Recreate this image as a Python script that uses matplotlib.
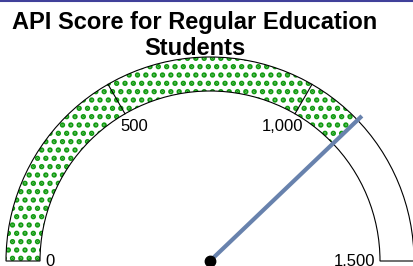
import numpy as np
import matplotlib
matplotlib.use("Agg")
import matplotlib.pyplot as plt
from matplotlib.patches import Wedge
from matplotlib.lines import Line2D

# gauge data
title = "API Score for Regular Education\nStudents"
gauge_min = 0
gauge_max = 1500
value = 1136
tick_values = [0, 500, 1000, 1500]
tick_labels = ["0", "500", "1,000", "1,500"]

plt.rcParams['font.family'] = ['Liberation Sans', 'DejaVu Sans']
plt.rcParams['hatch.linewidth'] = 2.6

fig = plt.figure(figsize=(4.14, 2.66), dpi=100)
ax = fig.add_axes([0, 0, 1, 1])
ax.set_xlim(0, 414)
ax.set_ylim(0, 266)
ax.set_aspect('equal')
ax.axis('off')

cx, cy = 210, 5
r_out, r_in = 204, 170


def to_angle(v):
    return 180.0 - 180.0 * (v - gauge_min) / (gauge_max - gauge_min)


# filled part (dotted green)
val_ang = to_angle(value)
ax.add_patch(Wedge((cx, cy), r_out, val_ang, 180, width=r_out - r_in,
                   facecolor='white', edgecolor='#109a10', hatch='..', linewidth=0))
# outline of the whole band
ax.add_patch(Wedge((cx, cy), r_out, 0, 180, width=r_out - r_in,
                   facecolor='none', edgecolor='black', linewidth=0.8))

# ticks across the band + labels
for tv, tl in zip(tick_values, tick_labels):
    a = np.deg2rad(to_angle(tv))
    if 0 < tv < gauge_max:
        ax.plot([cx + r_in * np.cos(a), cx + r_out * np.cos(a)],
                [cy + r_in * np.sin(a), cy + r_out * np.sin(a)],
                color='black', linewidth=0.8)
    lx, ly = cx + r_in * np.cos(a), cy + r_in * np.sin(a)
    if tv == gauge_min:
        ax.text(lx + 5, ly - 1, tl, ha='left', va='center', fontsize=12)
    elif tv == gauge_max:
        ax.text(lx - 5, ly - 1, tl, ha='right', va='center', fontsize=12)
    elif to_angle(tv) > 90:
        ax.text(lx - 5, ly - 5, tl, ha='left', va='top', fontsize=12)
    else:
        ax.text(lx + 8, ly - 5, tl, ha='right', va='top', fontsize=12)

# needle
a = np.deg2rad(val_ang)
needle_len = 210
ax.plot([cx, cx + needle_len * np.cos(a)], [cy, cy + needle_len * np.sin(a)],
        color='#6882ad', linewidth=3, solid_capstyle='butt', zorder=5)
ax.plot([cx], [cy], 'o', color='black', markersize=7.5, zorder=6)

fig.text(195 / 414, 1 - 11 / 266, title, ha='center', va='top',
         fontsize=17, fontweight='bold', linespacing=1.19)

# top border line
fig.add_artist(Line2D([0, 1], [0.997, 0.997], transform=fig.transFigure,
                      color='#40409a', linewidth=1.5))

fig.savefig("out.png", dpi=100)
